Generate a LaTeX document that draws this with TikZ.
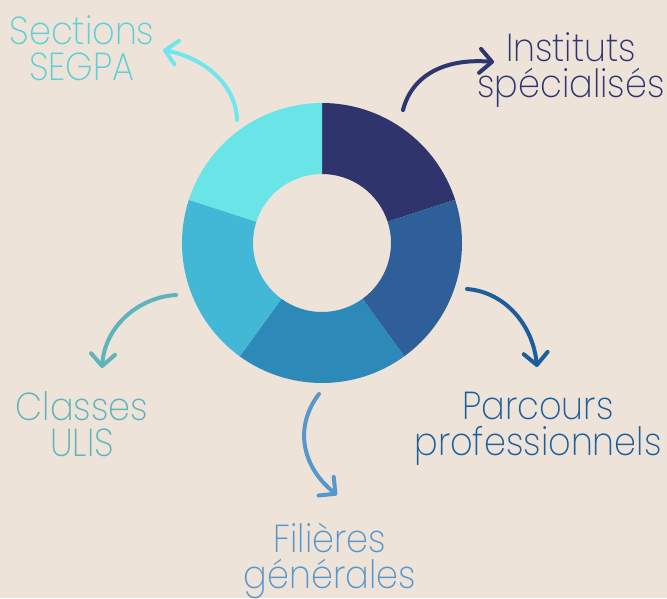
\documentclass[tikz,border=0pt]{standalone}
\usepackage{fontspec}
\newfontfamily\lblfont{Poppins ExtraLight}[FakeStretch=0.9]
\usetikzlibrary{arrows.meta}

\definecolor{bgcol}{HTML}{EDE3D8}
\definecolor{navy}{HTML}{2F356C}
\definecolor{steel}{HTML}{2E5F98}
\definecolor{ocean}{HTML}{2D8AB8}
\definecolor{sky}{HTML}{42B8D6}
\definecolor{aqua}{HTML}{69E5E8}
\definecolor{segpaTxt}{HTML}{5CCFD9}
\definecolor{segpaArr}{HTML}{72E6EE}
\definecolor{instCol}{HTML}{2E3570}
\definecolor{parcCol}{HTML}{1C5E9C}
\definecolor{ulisCol}{HTML}{5FB4BB}
\definecolor{filCol}{HTML}{5897CC}

\begin{document}
\begin{tikzpicture}[
            x = 1pt, y = -1pt, % pixel grid, y going down
            > = {Straight Barb[length=12pt, width=24pt, round]}, % arrow head style
            line cap = round,
            curvy/.style = {line width = 4pt} % hand drawn arrows
        ]

        \tikzstyle{lbl}=[
            font = \lblfont\fontsize{39}{36}\selectfont,
            align = center,
            inner sep = 0pt,
            anchor = base % baseline of the last line
        ]

	\useasboundingbox (0,0) rectangle (667,598);
	\fill[bgcol] (0,0) rectangle (667,598);
	\coordinate (dc) at (322,243);

	% donut ring
	\foreach \a/\c in {90/navy, 18/steel, -54/ocean, -126/sky, 162/aqua}{
	    \pgfmathsetmacro\b{\a-72}
	    \fill[\c] ([shift={(\a:140pt)}]dc) arc[start angle=\a, end angle=\b, radius=140pt]
	        -- ([shift={(\b:69pt)}]dc) arc[start angle=\b, end angle=\a, radius=69pt] -- cycle;
	}

	\node[lbl, text=segpaTxt] (segpa) at (82,80) {Sections\\SEGPA};
	\node[lbl, text=instCol] (inst) at (571,97) {Instituts\\spécialisés};
	\node[lbl, text=parcCol] (parc) at (538,455) {Parcours\\professionnels};
	\node[lbl, text=ulisCol] (ulis) at (82,456) {Classes\\ULIS};
	\node[lbl, text=filCol] (fil) at (330,588) {Filières\\générales};

	\coordinate (segpaTail) at (237,120);
	\coordinate (segpaHead) at (163,50);
	\coordinate (instTail) at (403,110);
	\coordinate (instHead) at (494,62);
	\coordinate (parcTail) at (467,289);
	\coordinate (parcHead) at (537,367);
	\coordinate (ulisTail) at (176,295);
	\coordinate (ulisHead) at (102,368);
	\coordinate (filTail) at (319,394);
	\coordinate (filHead) at (337,495);

        \draw[->, curvy, segpaArr] (segpaTail) .. controls +(-1,-35) and +(42,8) .. (segpaHead);
        \draw[->, curvy, instCol] (instTail) .. controls +(9,-35) and +(-49,-4) .. (instHead);
        \draw[->, curvy, parcCol] (parcTail) .. controls +(38,3) and +(-4,-42) .. (parcHead);
        \draw[->, curvy, ulisCol] (ulisTail) .. controls +(-36,2) and +(3,-43) .. (ulisHead);
        \draw[->, curvy, filCol] (filTail) .. controls +(-24,31) and +(-37,-30) .. (filHead);

    \end{tikzpicture}
\end{document}
